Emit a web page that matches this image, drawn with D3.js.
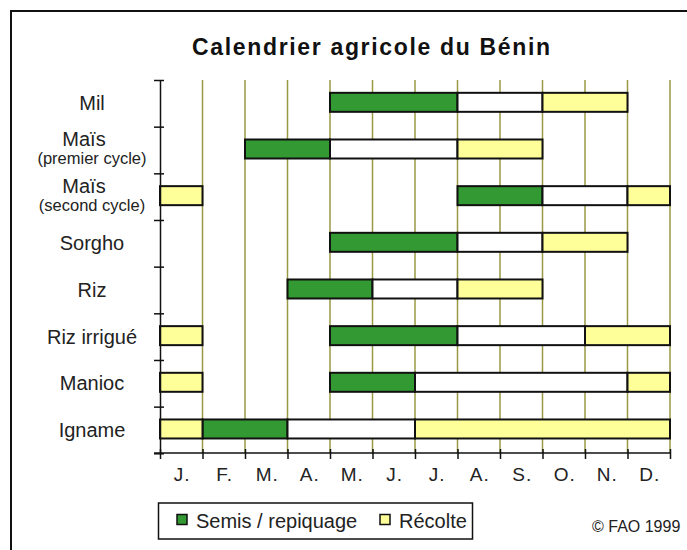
<!DOCTYPE html>
<html>
<head>
<meta charset="utf-8">
</head>
<body>
<div id="chart"></div>

<script src="https://d3js.org/d3.v7.min.js"></script>
<script>
    const width = 687;
    const height = 550;

    // Crops, top to bottom
    const crops = ["Mil", "Maïs", "Maïs", "Sorgho", "Riz", "Riz irrigué", "Manioc", "Igname"];
    const cropNotes = ["", "(premier cycle)", "(second cycle)", "", "", "", "", ""];
    const months = ["J.", "F.", "M.", "A.", "M.", "J.", "J.", "A.", "S.", "O.", "N.", "D."];

    // [start month, end month], 0 = start of January
    const semis = [[4, 7], [2, 4], [7, 9], [4, 7], [3, 5], [4, 7], [4, 6], [1, 3]];
    const croissance = [[7, 9], [4, 7], [9, 11], [7, 9], [5, 7], [7, 10], [6, 11], [3, 6]];
    const recolte = [
        [[9, 11]],
        [[7, 9]],
        [[0, 1], [11, 12]],
        [[9, 11]],
        [[7, 9]],
        [[0, 1], [10, 12]],
        [[0, 1], [11, 12]],
        [[0, 1], [6, 12]]
    ];

    const colors = { semis: "#339933", croissance: "#ffffff", recolte: "#ffff99" };
    const font = "'Liberation Sans', Arial, sans-serif";

    const svg = d3.select("#chart")
        .append("svg")
        .attr("width", width)
        .attr("height", height)
        .style("display", "block")
        .style("background", "#fff");

    d3.select("body").style("margin", 0);

    // outer frame (only top and left edges visible)
    svg.append("rect")
        .attr("x", 11).attr("y", 11)
        .attr("width", 800).attr("height", 800)
        .attr("fill", "none")
        .attr("stroke", "#111")
        .attr("stroke-width", 2);

    svg.append("text")
        .attr("x", 192).attr("y", 55)
        .attr("font-family", font)
        .attr("font-size", "23px")
        .attr("font-weight", "bold")
        .attr("textLength", 358)
        .attr("lengthAdjust", "spacing")
        .attr("fill", "#111")
        .text("Calendrier agricole du Bénin");

    const x = d3.scaleLinear().domain([0, 12]).range([160, 670]);
    const yRow = d3.scaleLinear().domain([0, 8]).range([80, 453.3]);
    const y = d3.scaleBand().domain(d3.range(crops.length)).range([80, 453.3]);
    const xMonth = d3.scaleBand().domain(d3.range(12)).range([160, 670]);

    // month gridlines
    svg.append("g")
        .selectAll("line")
        .data(d3.range(1, 13))
        .join("line")
        .attr("x1", d => x(d)).attr("x2", d => x(d))
        .attr("y1", 80).attr("y2", 453)
        .attr("stroke", "#999944")
        .attr("stroke-width", 1.5);

    // bar segments
    const segments = [];
    crops.forEach((c, i) => {
        segments.push({ row: i, range: semis[i], phase: "semis" });
        segments.push({ row: i, range: croissance[i], phase: "croissance" });
        recolte[i].forEach(r => segments.push({ row: i, range: r, phase: "recolte" }));
    });

    const barH = 19;
    svg.append("g")
        .selectAll("rect")
        .data(segments)
        .join("rect")
        .attr("x", d => x(d.range[0]))
        .attr("width", d => x(d.range[1]) - x(d.range[0]))
        .attr("y", d => y(d.row) + y.bandwidth() / 2 - barH / 2 - 1)
        .attr("height", barH)
        .attr("fill", d => colors[d.phase])
        .attr("stroke", "#111")
        .attr("stroke-width", 2);

    // y axis
    const yAxis = svg.append("g")
        .attr("transform", "translate(160,0)")
        .call(d3.axisLeft(yRow).tickValues(d3.range(0, 9)).tickSize(6).tickFormat("").tickSizeOuter(0));
    yAxis.select(".domain").attr("stroke", "#111").attr("stroke-width", 1.5);
    yAxis.selectAll(".tick line").attr("x2", 4).attr("x1", -6).attr("stroke", "#111").attr("stroke-width", 1.5);

    // x axis
    const xAxis = svg.append("g")
        .attr("transform", "translate(0,453)")
        .call(d3.axisBottom(x).tickValues(d3.range(0, 13)).tickSize(6).tickFormat("").tickSizeOuter(0));
    xAxis.select(".domain").attr("stroke", "#111").attr("stroke-width", 1.5)
        .attr("d", `M${x(0) - 6},0H${x(12)}`);
    xAxis.selectAll(".tick line").attr("y1", -4).attr("y2", 6).attr("stroke", "#111").attr("stroke-width", 1.5);

    svg.append("g")
        .selectAll("text")
        .data(months)
        .join("text")
        .attr("x", (d, i) => xMonth(i) + xMonth.bandwidth() / 2 + 1)
        .attr("y", 481)
        .attr("text-anchor", "middle")
        .attr("font-family", font)
        .attr("font-size", "19px")
        .attr("letter-spacing", "1px")
        .attr("fill", "#222")
        .text(d => d);

    // crop labels
    const labels = svg.append("g")
        .attr("font-family", font)
        .attr("fill", "#222")
        .attr("text-anchor", "middle");

    crops.forEach((c, i) => {
        const cy = y(i) + y.bandwidth() / 2;
        if (cropNotes[i]) {
            labels.append("text")
                .attr("x", 84).attr("y", cy - 4)
                .attr("font-size", "20px")
                .text(c);
            labels.append("text")
                .attr("x", 92).attr("y", cy + 14)
                .attr("font-size", "16.5px")
                .text(cropNotes[i]);
        } else {
            labels.append("text")
                .attr("x", 92).attr("y", cy + 7)
                .attr("font-size", "20px")
                .text(c);
        }
    });

    // legend
    const legend = svg.append("g");
    legend.append("rect")
        .attr("x", 158.5).attr("y", 503)
        .attr("width", 314).attr("height", 36)
        .attr("fill", "#fff")
        .attr("stroke", "#111")
        .attr("stroke-width", 1.5);

    const legendItems = [
        { label: "Semis / repiquage", phase: "semis", x: 177 },
        { label: "Récolte", phase: "recolte", x: 380 }
    ];
    legendItems.forEach(item => {
        legend.append("rect")
            .attr("x", item.x).attr("y", 514.5)
            .attr("width", 10).attr("height", 10)
            .attr("fill", colors[item.phase])
            .attr("stroke", "#111")
            .attr("stroke-width", 1.5);
        legend.append("text")
            .attr("x", item.x + 19).attr("y", 528)
            .attr("font-family", font)
            .attr("font-size", "20px")
            .attr("fill", "#222")
            .text(item.label);
    });

    svg.append("text")
        .attr("x", 592).attr("y", 532)
        .attr("font-family", font)
        .attr("font-size", "16px")
        .attr("fill", "#222")
        .text("© FAO 1999");
</script>
</body>
</html>
